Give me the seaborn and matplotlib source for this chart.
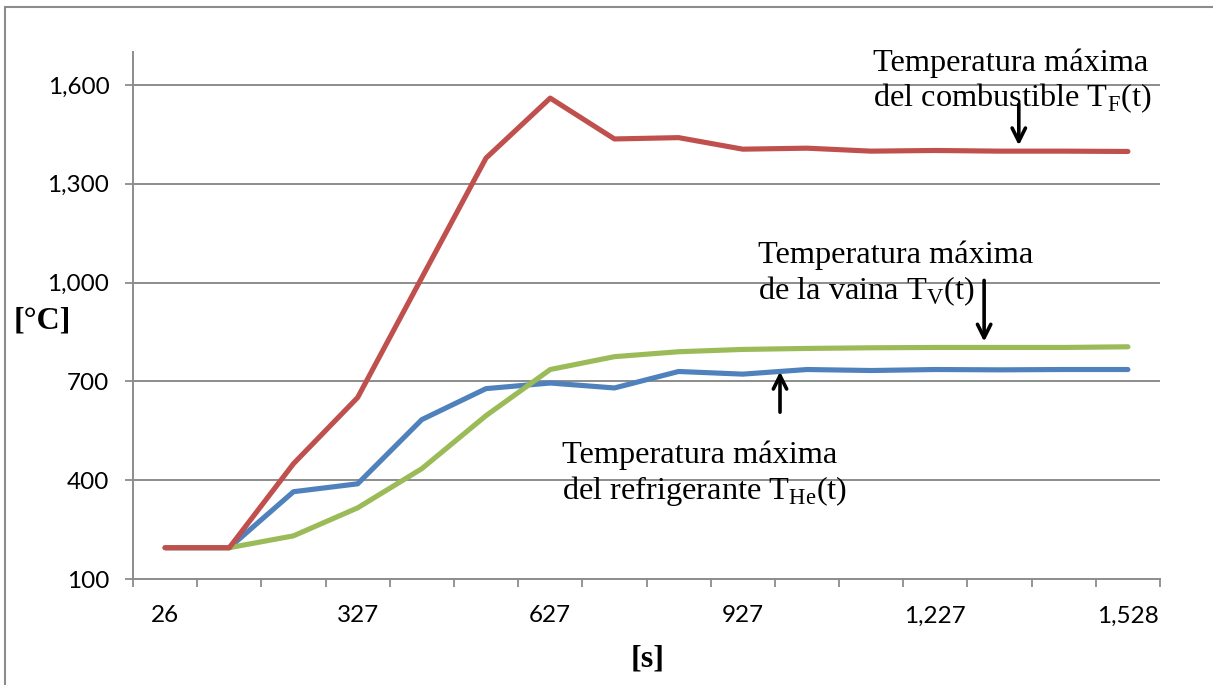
import numpy as np
import pandas as pd
import matplotlib
matplotlib.use("Agg")
import matplotlib.pyplot as plt
import seaborn as sns
from matplotlib.patches import Rectangle

# time axis categories [s]
times = [26, 126, 226, 327, 427, 527, 627, 727, 827, 927, 1027, 1127, 1227, 1327, 1427, 1528]
tick_every = 3

# max temperatures [°C]
t_fuel = [195, 195, 450, 651, 1015, 1378, 1560, 1436, 1440, 1405, 1408, 1399, 1401, 1399, 1399, 1398]
t_clad = [195, 195, 231, 316, 435, 596, 736, 775, 790, 797, 800, 802, 803, 803, 803, 805]
t_cool = [195, 195, 365, 389, 584, 678, 695, 680, 730, 722, 736, 733, 736, 735, 736, 736]

series_names = ["T_F", "T_V", "T_He"]
series_colors = {"T_F": "#C0504D", "T_V": "#9BBB59", "T_He": "#4F81BD"}
y_ticks = [100, 400, 700, 1000, 1300, 1600]

time_labels = [f"{t:,}" for t in times]
df = pd.concat([
    pd.DataFrame({"t": time_labels, "temp": t_fuel, "serie": "T_F"}),
    pd.DataFrame({"t": time_labels, "temp": t_clad, "serie": "T_V"}),
    pd.DataFrame({"t": time_labels, "temp": t_cool, "serie": "T_He"}),
])

sns.set_theme(style="white")
plt.rcParams["font.family"] = ["Lato", "DejaVu Sans"]
plt.rcParams["mathtext.fontset"] = "custom"
plt.rcParams["mathtext.rm"] = "Liberation Serif"
plt.rcParams["text.color"] = "black"
plt.rcParams["axes.labelcolor"] = "black"

fig = plt.figure(figsize=(12.13, 6.85), dpi=100)
ax = fig.add_axes([133 / 1213, 1 - 579 / 685, 1027 / 1213, 527 / 685])

grid_c = "#8c8c8c"
for yv in y_ticks[1:]:
    ax.axhline(yv, color=grid_c, lw=1.4, zorder=0)

sns.lineplot(data=df, x="t", y="temp", hue="serie", hue_order=["T_He", "T_V", "T_F"],
             palette=series_colors, linewidth=3.7, legend=False, ax=ax,
             solid_capstyle="round", sort=False)

n = len(times)
ax.set_xlim(-0.5, n - 0.5)
ax.set_ylim(100, 1700)
ax.set_xticks(np.arange(-0.5, n, 1.0))
ax.set_xticklabels([])
ax.set_xticks(range(0, n, tick_every), minor=True)
ax.set_xticklabels([time_labels[i] for i in range(0, n, tick_every)], minor=True)
ax.set_yticks(y_ticks)
ax.set_yticklabels([f"{v:,}" for v in y_ticks])
ax.tick_params(axis="x", which="major", direction="out", length=6, width=1.3, color=grid_c, bottom=True)
ax.tick_params(axis="x", which="minor", length=0, pad=19, labelsize=17.5, labelcolor="black")
ax.tick_params(axis="y", direction="out", length=6, width=1.3, color=grid_c, pad=11,
               labelsize=17.5, labelcolor="black", left=True)

for s in ["top", "right"]:
    ax.spines[s].set_visible(False)
for s in ["left", "bottom"]:
    ax.spines[s].set_color(grid_c)
    ax.spines[s].set_linewidth(1.4)

ax.set_xlabel("[s]", fontsize=23, fontweight="bold", family="Liberation Serif", va="center")
ax.set_ylabel("[°C]", fontsize=23, fontweight="bold", family="Liberation Serif", rotation=0,
              va="center", ha="center")
ax.xaxis.set_label_coords(0.501, -0.152)
ax.yaxis.set_label_coords(-0.0886, 0.49)

txt_kw = dict(fontsize=23.3, family="Liberation Serif", va="top", ha="left", linespacing=1.17,
              color="black")
ax.text(11.03, 1712, "Temperatura máxima\ndel combustible T$_\\mathrm{F}$(t)", **txt_kw)
ax.text(9.24, 1127, "Temperatura máxima\nde la vaina T$_\\mathrm{V}$(t)", **txt_kw)
ax.text(6.18, 521, "Temperatura máxima\ndel refrigerante T$_\\mathrm{He}$(t)", **txt_kw)

arrow_kw = dict(arrowstyle="->,head_length=0.8,head_width=0.4", color="black", lw=2.6)
ax.annotate("", xy=(13.3, 1408), xytext=(13.3, 1550), arrowprops=arrow_kw)
ax.annotate("", xy=(12.76, 812), xytext=(12.76, 1015), arrowprops=arrow_kw)
ax.annotate("", xy=(9.58, 738), xytext=(9.58, 598), arrowprops=arrow_kw)

fig.patches.append(Rectangle((5 / 1213, -0.1), 1.2, 1 - 7 / 685 + 0.1, transform=fig.transFigure,
                             fill=False, edgecolor="#8c8c8c", lw=1.5))

fig.savefig("out.png", dpi=100)
